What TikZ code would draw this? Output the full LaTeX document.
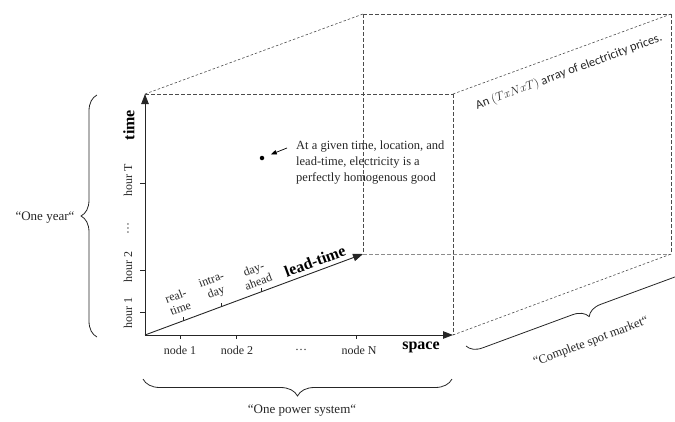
\documentclass[tikz,border=0pt]{standalone}
\usepackage{fontspec}
\setmainfont{Liberation Serif}
\newfontfamily\calib{Carlito}
\usetikzlibrary{arrows.meta,decorations.pathreplacing,calc}
\begin{document}
\begin{tikzpicture}[x=1pt,y=-1pt,
  axis/.style={line width=0.9pt, draw=black!85, -{Triangle[length=10pt,width=7.5pt]}},
  dashedge/.style={line width=0.8pt, draw=black!70, dash pattern=on 3.5pt off 2.5pt},
  lightdash/.style={line width=0.8pt, draw=black!45, dash pattern=on 3.5pt off 2.5pt},
  thindash/.style={line width=0.6pt, draw=black!70, dash pattern=on 2.5pt off 2pt},
  tickmark/.style={line width=0.7pt, draw=black!85},
  lab/.style={font=\fontsize{12}{14}\selectfont, inner sep=0pt, text=black!85},
  qlab/.style={font=\fontsize{13}{15}\selectfont, inner sep=0pt, text=black!85},
  axlab/.style={font=\fontsize{16}{18}\selectfont\bfseries, inner sep=0pt},
  bracedeco/.style={decorate, decoration={brace, amplitude=#1}, line width=0.8pt, draw=black!85}
]
\useasboundingbox (0,0) rectangle (675,421);
\clip (0,0) rectangle (675,421);

% corners
\coordinate (O) at (145,335);
\coordinate (T) at (145,94);
\coordinate (S) at (453,335);
\coordinate (L) at (363,254);
\coordinate (TS) at (453,94);
\coordinate (TL) at (363,14);
\coordinate (SL) at (671,254);
\coordinate (TSL) at (671,14);

% dashed box edges
\draw[dashedge] (T) -- (TS);
\draw[dashedge] (TS) -- (S);
\draw[dashedge] (TL) -- (L);
\draw[dashedge] (TL) -- (TSL);
\draw[dashedge] (TSL) -- (SL);
\draw[lightdash] (L) -- (SL);
\draw[thindash] (T) -- (TL);
\draw[thindash] (TS) -- (TSL);
\draw[thindash] (S) -- (SL);

% axes
\draw[axis] (O) -- (T);
\draw[axis] (O) -- (S);
\draw[axis] (O) -- (L);

% time ticks
\coordinate (h1) at (145,312);
\coordinate (h2) at (145,270);
\coordinate (hT) at (145,183);
\foreach \c in {h1,h2,hT} \draw[tickmark] (\c) -- ++(-5,0);
\node[lab, rotate=90] (lh1) at (128,313) {hour 1};
\node[lab, rotate=90] (lh2) at (128,267) {hour 2};
\node[lab, rotate=90] (ldots) at (128,228) {\dots};
\node[lab, rotate=90] (lhT) at (128,180) {hour T};
\node[axlab, rotate=90] (ltime) at (129,125) {time};

% space ticks
\coordinate (n1) at (180,335);
\coordinate (n2) at (236,335);
\coordinate (nN) at (356,335);
\foreach \c in {n1,n2,nN} \draw[tickmark] (\c) -- ++(0,4);
\node[lab] (ln1) at (180,350) {node 1};
\node[lab] (ln2) at (237,350) {node 2};
\node[lab] (lnd) at (301,350) {\dots};
\node[lab] (lnN) at (359,350) {node N};
\node[axlab] (lspace) at (421,347) {space};

% lead-time ticks
\coordinate (r1) at ($(O)!0.174!(L)$);
\coordinate (r2) at ($(O)!0.349!(L)$);
\coordinate (r3) at ($(O)!0.532!(L)$);
\foreach \c in {r1,r2,r3} \draw[tickmark] (\c) -- ++(0,-4);
\node[lab, rotate=20.4, align=center, font=\fontsize{12}{13.5}\selectfont] (lrt) at (178,302) {real-\\time};
\node[lab, rotate=20.4, align=center, font=\fontsize{12}{13.5}\selectfont] (lid) at (214,287) {intra-\\day};
\node[lab, rotate=20.4, align=center, font=\fontsize{12}{13.5}\selectfont] (lda) at (256,275) {day-\\ahead};
\node[axlab, rotate=20.4] (llead) at (315,261) {lead-time};

% annotation
\node[circle, fill=black, inner sep=0pt, minimum size=4.5pt] (dot) at (262,158) {};
\coordinate (arrs) at (287,148);
\draw[line width=0.7pt, -{Triangle[length=6pt,width=4.5pt]}, shorten >=7pt] (arrs) -- (dot);
\node[lab, anchor=west, align=left, font=\fontsize{12.5}{16}\selectfont] (note) at (296,163)
  {At a given time, location, and\\lead-time, electricity is a\\perfectly homogenous good};

% array label
\node[inner sep=0pt, rotate=20.4, font=\calib\fontsize{12.5}{14}\selectfont, text=black!85] (arr) at (569,72)
  {An $(TxNxT)$ array of electricity prices.};

% braces
\coordinate (ya) at (97,337);
\coordinate (yb) at (97,95);
\draw[bracedeco=16] (ya) -- (yb);
\node[qlab] (lyear) at (45,218) {“One year“};

\coordinate (pa) at (452,379);
\coordinate (pb) at (143,379);
\draw[bracedeco=17] (pa) -- (pb);
\node[qlab] (lpower) at (302,411) {“One power system“};

\coordinate (ma) at (702,259);
\coordinate (mb) at (466,346);
\draw[bracedeco=15] (ma) -- (mb);
\node[lab, rotate=20.4, font=\fontsize{12.5}{14}\selectfont] (lmarket) at (591,342) {“Complete spot market“};
\end{tikzpicture}
\end{document}
